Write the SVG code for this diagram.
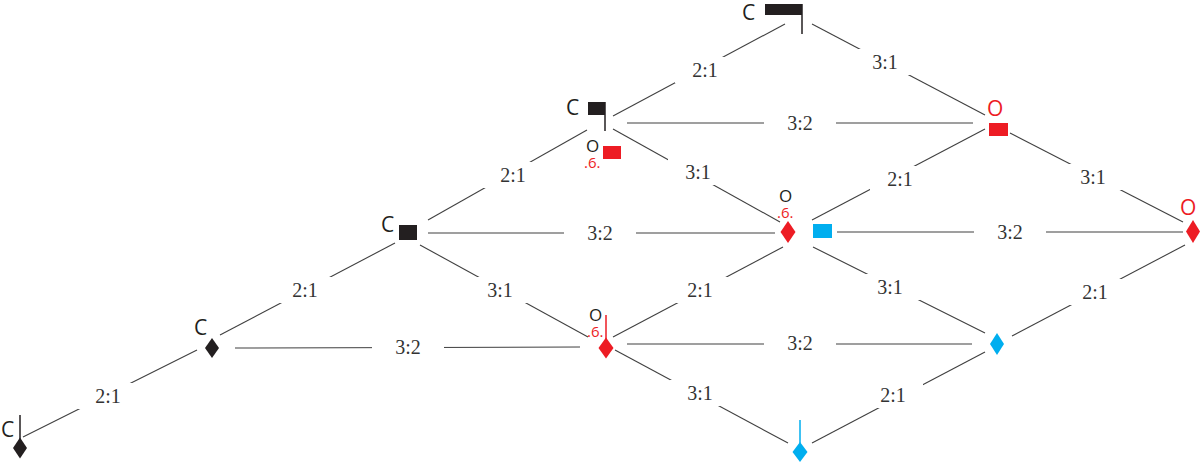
<svg xmlns="http://www.w3.org/2000/svg" width="1200" height="462" viewBox="0 0 1200 462">
<style>
.e{stroke:#404040;stroke-width:1.1;fill:none}
.bg{fill:#ffffff}
.lbl{font-family:"Liberation Serif",serif;font-size:20px;fill:#333333;text-anchor:middle}
.k{fill:#231f20}
.r{fill:#ed1c24}
.b{fill:#00aeef}
.ck{font-family:"Open Sans","Liberation Sans",sans-serif;font-size:21px;fill:#231f20}
.ok{font-family:"Open Sans","Liberation Sans",sans-serif;font-size:17px;fill:#231f20}
.orr{font-family:"Open Sans","Liberation Sans",sans-serif;font-size:21px;fill:#ed1c24}
.six{font-family:"Open Sans","Liberation Sans",sans-serif;font-size:15px;fill:#ed1c24}
.sk{stroke:#231f20;stroke-width:1.5}
.sr{stroke:#ed1c24;stroke-width:1.5}
.sb{stroke:#00aeef;stroke-width:1.5}
</style>
<rect width="1200" height="462" fill="#ffffff"/>
<g id="connectors">
<line class="e" x1="785" y1="24" x2="613" y2="116"/>
<line class="e" x1="812" y1="24" x2="985" y2="115"/>
<line class="e" x1="627" y1="123" x2="973" y2="123"/>
<line class="e" x1="587" y1="130" x2="428" y2="220"/>
<line class="e" x1="613" y1="129" x2="780" y2="222"/>
<line class="e" x1="985" y1="129" x2="812" y2="220"/>
<line class="e" x1="1010" y1="133" x2="1183" y2="222"/>
<line class="e" x1="428" y1="233" x2="775" y2="233"/>
<line class="e" x1="837" y1="232" x2="1183" y2="232"/>
<line class="e" x1="395" y1="243" x2="220" y2="335"/>
<line class="e" x1="420" y1="245" x2="588" y2="337"/>
<line class="e" x1="783" y1="247" x2="613" y2="337"/>
<line class="e" x1="813" y1="247" x2="985" y2="333"/>
<line class="e" x1="1185" y1="245" x2="1012" y2="336"/>
<line class="e" x1="235" y1="348" x2="580" y2="347"/>
<line class="e" x1="627" y1="344" x2="972" y2="344"/>
<line class="e" x1="197" y1="350" x2="23" y2="437"/>
<line class="e" x1="615" y1="350" x2="788" y2="443"/>
<line class="e" x1="985" y1="352" x2="812" y2="443"/>
<g id="labels">
<rect class="bg" x="675" y="57" width="60" height="26"/><text class="lbl" x="705" y="77">2:1</text>
<rect class="bg" x="855" y="49" width="60" height="26"/><text class="lbl" x="885" y="69">3:1</text>
<rect class="bg" x="764" y="110" width="72" height="26"/><text class="lbl" x="800" y="130">3:2</text>
<rect class="bg" x="483" y="162" width="60" height="26"/><text class="lbl" x="513" y="182">2:1</text>
<rect class="bg" x="668" y="159" width="60" height="26"/><text class="lbl" x="698" y="179">3:1</text>
<rect class="bg" x="870" y="166" width="60" height="26"/><text class="lbl" x="900" y="186">2:1</text>
<rect class="bg" x="1063" y="164" width="60" height="26"/><text class="lbl" x="1093" y="184">3:1</text>
<rect class="bg" x="564" y="220" width="72" height="26"/><text class="lbl" x="600" y="240">3:2</text>
<rect class="bg" x="974" y="219" width="72" height="26"/><text class="lbl" x="1010" y="239">3:2</text>
<rect class="bg" x="275" y="277" width="60" height="26"/><text class="lbl" x="305" y="297">2:1</text>
<rect class="bg" x="470" y="277" width="60" height="26"/><text class="lbl" x="500" y="297">3:1</text>
<rect class="bg" x="670" y="277" width="60" height="26"/><text class="lbl" x="700" y="297">2:1</text>
<rect class="bg" x="860" y="274" width="60" height="26"/><text class="lbl" x="890" y="294">3:1</text>
<rect class="bg" x="1065" y="279" width="60" height="26"/><text class="lbl" x="1095" y="299">2:1</text>
<rect class="bg" x="372" y="334" width="72" height="26"/><text class="lbl" x="408" y="354">3:2</text>
<rect class="bg" x="764" y="330" width="72" height="26"/><text class="lbl" x="800" y="350">3:2</text>
<rect class="bg" x="78" y="383" width="60" height="26"/><text class="lbl" x="108" y="403">2:1</text>
<rect class="bg" x="670" y="380" width="60" height="26"/><text class="lbl" x="700" y="400">3:1</text>
<rect class="bg" x="863" y="382" width="60" height="26"/><text class="lbl" x="893" y="402">2:1</text>
</g>
</g>
<g id="nodeA">
<text class="ck" x="742" y="20">C</text>
<rect class="k" x="765" y="4" width="37" height="11"/>
<line class="sk" x1="802" y1="4" x2="802" y2="34"/>
</g>
<g id="nodeB">
<text class="ck" x="566" y="115">C</text>
<rect class="k" x="588" y="102" width="17" height="13"/>
<line class="sk" x1="605" y1="102" x2="605" y2="131"/>
<text class="ok" x="586" y="152">O</text>
<text class="six" x="584" y="168">.6.</text>
<rect class="r" x="603" y="146" width="18" height="13"/>
</g>
<g id="nodeC2">
<text class="orr" x="987" y="116">O</text>
<rect class="r" x="989" y="123" width="19" height="13"/>
</g>
<g id="nodeD">
<text class="ck" x="381" y="232">C</text>
<rect class="k" x="399" y="225" width="18" height="15"/>
</g>
<g id="nodeE">
<text class="ok" x="779" y="202">O</text>
<text class="six" x="777" y="218">.6.</text>
<polygon class="r" points="788,221 795.5,232 788,243 780.5,232"/>
<rect class="b" x="813" y="224" width="19" height="14"/>
</g>
<g id="nodeF">
<text class="orr" x="1180" y="215">O</text>
<polygon class="r" points="1193,220 1200,231.5 1193,243 1186,231.5"/>
</g>
<g id="nodeG">
<text class="ck" x="194" y="335">C</text>
<polygon class="k" points="212,338 219,348 212,358 205,348"/>
</g>
<g id="nodeH">
<text class="ok" x="589" y="321">O</text>
<text class="six" x="587" y="337">.6.</text>
<line class="sr" x1="606" y1="315" x2="606" y2="340"/>
<polygon class="r" points="606,337.5 613.5,348 606,358.5 598.5,348"/>
</g>
<g id="nodeI">
<polygon class="b" points="997,333 1004,344 997,355 990,344"/>
</g>
<g id="nodeJ">
<text class="ck" x="1" y="437">C</text>
<line class="sk" x1="20" y1="415" x2="20" y2="440"/>
<polygon class="k" points="20,437.5 27,448 20,458.5 13,448"/>
</g>
<g id="nodeK">
<line class="sb" x1="800" y1="420" x2="800" y2="443"/>
<polygon class="b" points="800,442 807.5,452 800,462 792.5,452"/>
</g>
</svg>
